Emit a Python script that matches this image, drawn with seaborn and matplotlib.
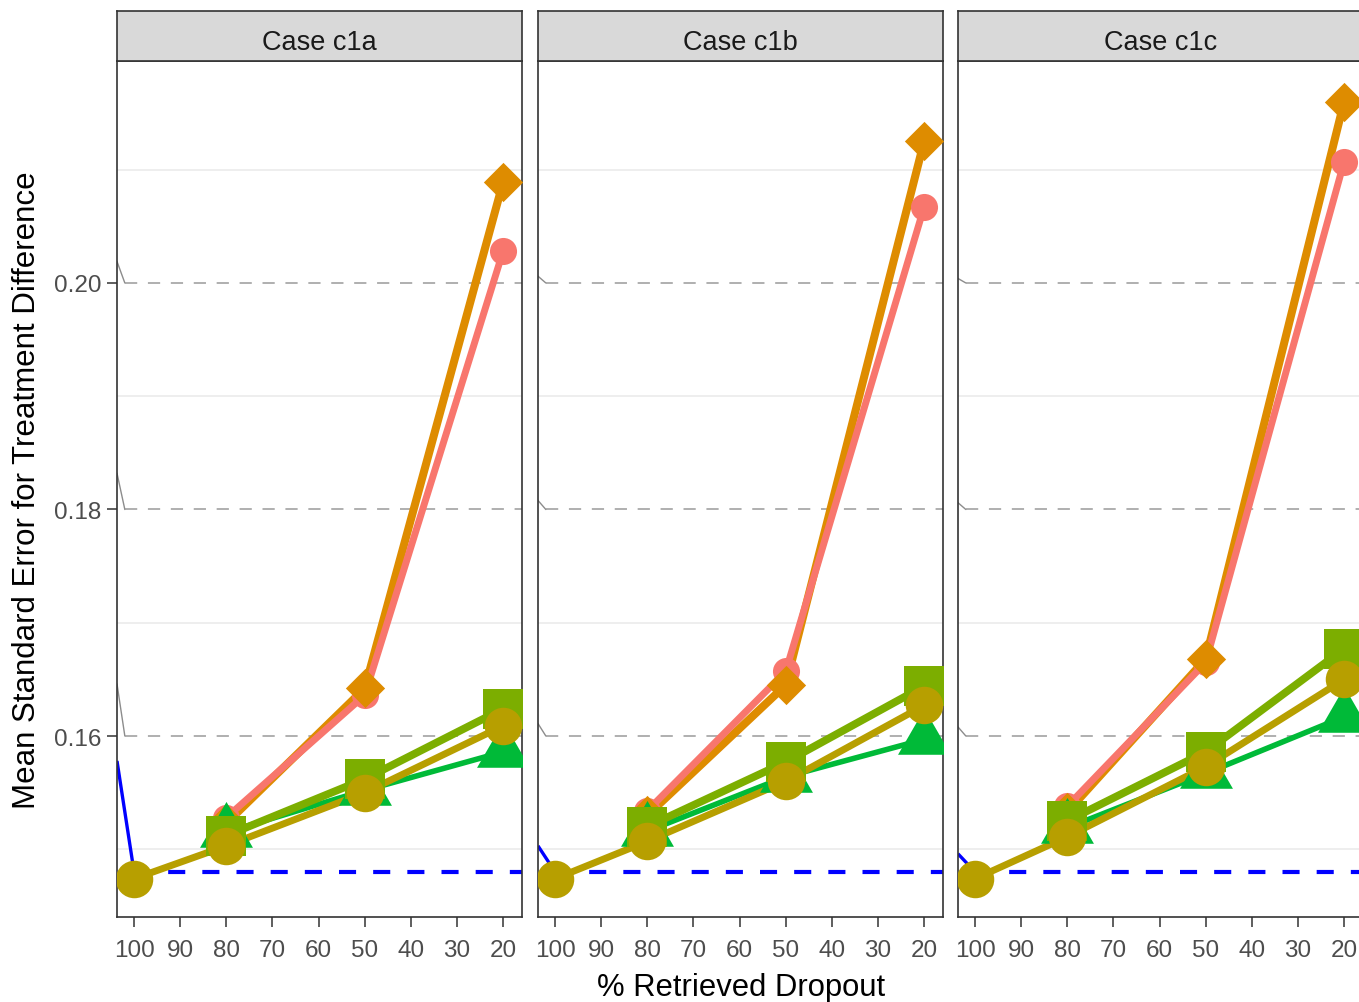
import numpy as np
import pandas as pd
import matplotlib
matplotlib.use("Agg")
import matplotlib.pyplot as plt
import seaborn as sns

sns.set_theme(style="white")
plt.rcParams["font.family"] = ["Liberation Sans", "DejaVu Sans"]

# ---- data -------------------------------------------------------------
retrieved = [100, 80, 50, 20]
retrieved_partial = [80, 50, 20]
cases = ["Case c1a", "Case c1b", "Case c1c"]
x_ticks = [100, 90, 80, 70, 60, 50, 40, 30, 20]
y_ticks = [0.16, 0.18, 0.20]
y_minor = [0.15, 0.17, 0.19, 0.21]

# series observed at 80/50/20 % retrieved dropout
se_s1 = {"Case c1a": [0.1528, 0.1636, 0.2028],
         "Case c1b": [0.1534, 0.1657, 0.2067],
         "Case c1c": [0.1538, 0.1665, 0.2107]}
se_s2 = {"Case c1a": [0.1523, 0.1642, 0.2089],
         "Case c1b": [0.1530, 0.1645, 0.2125],
         "Case c1c": [0.1533, 0.1668, 0.2160]}
se_s4 = {"Case c1a": [0.1512, 0.1562, 0.1624],
         "Case c1b": [0.1520, 0.1577, 0.1644],
         "Case c1c": [0.1525, 0.1586, 0.1677]}
se_s5 = {"Case c1a": [0.1515, 0.1552, 0.1586],
         "Case c1b": [0.1516, 0.1564, 0.1597],
         "Case c1c": [0.1519, 0.1567, 0.1617]}
# series observed at 100/80/50/20 % retrieved dropout
se_s3 = {"Case c1a": [0.1474, 0.1503, 0.1550, 0.1609],
         "Case c1b": [0.1474, 0.1507, 0.1560, 0.1627],
         "Case c1c": [0.1474, 0.1511, 0.1573, 0.1650]}

# full-retrieval reference level
ref_level = 0.148
# level of the solid reference segment where it enters each panel
ref_entry = {"Case c1a": 0.1578, "Case c1b": 0.1503, "Case c1c": 0.1496}
# levels where the grey guide segments enter each panel (for 0.16, 0.18, 0.20)
guide_entry = {"Case c1a": [0.1646, 0.1832, 0.2019],
               "Case c1b": [0.1611, 0.1808, 0.2006],
               "Case c1c": [0.1608, 0.1806, 0.2004]}

# ---- long table -------------------------------------------------------
series = [("s1", se_s1, retrieved_partial), ("s2", se_s2, retrieved_partial),
          ("s3", se_s3, retrieved), ("s4", se_s4, retrieved_partial),
          ("s5", se_s5, retrieved_partial)]
rows = []
for name, vals, xs in series:
    for case in cases:
        for x, y in zip(xs, vals[case]):
            rows.append({"series": name, "case": case, "retrieved": x, "se": y})
df = pd.DataFrame(rows)

colors = {"s1": "#F8766D", "s2": "#DE8C00", "s3": "#B79F00",
          "s4": "#7CAE00", "s5": "#00BA38"}
line_w = {"s1": 5.0, "s2": 5.8, "s3": 5.0, "s4": 5.6, "s5": 4.0}
tri = [(0, 1), (-0.866, -0.5), (0.866, -0.5), (0, 1)]
markers = {"s1": "o", "s2": "D", "s3": "o", "s4": "s", "s5": tri}
msize = {"s1": 19.5, "s2": 20, "s3": 27, "s4": 28.5, "s5": 44}
line_order = ["s2", "s1", "s5", "s3", "s4"]
point_order = ["s1", "s2", "s5", "s4", "s3"]

# ---- layout -----------------------------------------------------------
W, H = 1359, 1003
fig = plt.figure(figsize=(W / 100, H / 100), dpi=100)
xlim = (103.7, 15.9)
ylim = (0.14402, 0.2196)
panel_left = [117, 538, 958]
panel_w = 405
top_px, bot_px, strip_top = 62, 918, 12
dark = "#333333"

for i, case in enumerate(cases):
    ax = fig.add_axes([panel_left[i] / W, (H - bot_px) / H,
                       panel_w / W, (bot_px - top_px) / H])
    ax.set_xlim(*xlim)
    ax.set_ylim(*ylim)

    for yv in y_minor:
        ax.axhline(yv, color="#EBEBEB", lw=1.2, zorder=0)

    # grey guides
    for g, top in zip(y_ticks, guide_entry[case]):
        ax.plot([xlim[0], 102], [top, g], color="#8C8C8C", lw=1.0, zorder=1)
        ax.plot([102, xlim[1]], [g, g], color="#9A9A9A", lw=1.1,
                dashes=(8, 7), zorder=1)

    # reference level
    ax.plot([xlim[0], 100], [ref_entry[case], ref_level], color="#0000FF",
            lw=2.4, zorder=2, solid_capstyle="butt")
    ax.plot([100, xlim[1]], [ref_level, ref_level], color="#0000FF", lw=3.0,
            dashes=(4.1, 4.1), zorder=2)

    sub = df[df["case"] == case]
    for k, s in enumerate(line_order):
        d = sub[sub["series"] == s]
        sns.lineplot(data=d, x="retrieved", y="se", color=colors[s],
                     linewidth=line_w[s], sort=False, estimator=None,
                     ax=ax, zorder=3 + k)
    for k, s in enumerate(point_order):
        d = sub[sub["series"] == s]
        sns.scatterplot(data=d, x="retrieved", y="se", color=colors[s],
                        marker=markers[s], s=msize[s] ** 2, linewidth=0,
                        ax=ax, zorder=10 + k)

    ax.set_xlabel("")
    ax.set_ylabel("")
    ax.set_xticks(x_ticks)
    ax.set_xticklabels([str(v) for v in x_ticks])
    ax.tick_params(axis="x", length=7, width=1.1, color=dark,
                   labelsize=17.5, labelcolor="#4D4D4D", pad=9, bottom=True)
    if i == 0:
        ax.set_yticks(y_ticks)
        ax.set_yticklabels([f"{v:.2f}" for v in y_ticks])
        ax.tick_params(axis="y", length=7, width=1.1, color=dark,
                       labelsize=17.5, labelcolor="#4D4D4D", pad=4, left=True)
    else:
        ax.set_yticks([])
    for sp in ax.spines.values():
        sp.set_color(dark)
        sp.set_linewidth(1.2)
    if ax.get_legend() is not None:
        ax.get_legend().remove()

    # facet strip
    sax = fig.add_axes([panel_left[i] / W, (H - top_px) / H,
                        panel_w / W, (top_px - strip_top) / H])
    sax.set_facecolor("#D9D9D9")
    sax.set_xticks([])
    sax.set_yticks([])
    for sp in sax.spines.values():
        sp.set_color(dark)
        sp.set_linewidth(1.2)
    sax.text(0.5, 0.38, case, ha="center", va="center", fontsize=19.5,
             color="#1A1A1A", transform=sax.transAxes)

fig.text(741 / W, 1 - 988 / H, "% Retrieved Dropout", ha="center",
         va="center", fontsize=22.3, color="black")
fig.text(27 / W, 1 - 490 / H, "Mean Standard Error for Treatment Difference",
         ha="center", va="center", rotation=90, fontsize=22.5, color="black")

fig.savefig("out.png", dpi=100)
